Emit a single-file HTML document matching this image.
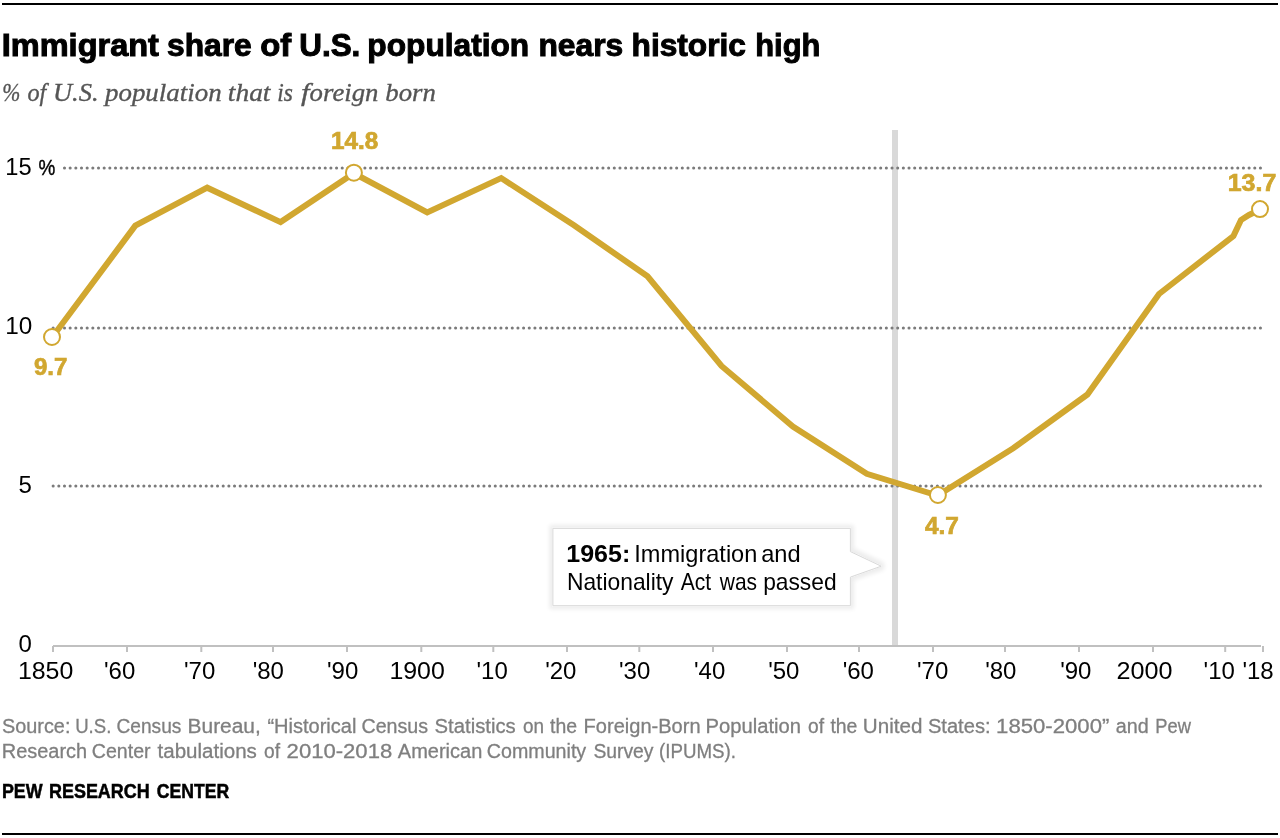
<!DOCTYPE html>
<html lang="en">
<head>
<meta charset="utf-8">
<title>Immigrant share of U.S. population nears historic high</title>
<style>
  html, body { margin: 0; padding: 0; background: #ffffff; }
  body { width: 1280px; height: 838px; overflow: hidden; }
  svg { display: block; will-change: transform; }
  text { font-family: "Liberation Sans", sans-serif; }
  .serif { font-family: "Liberation Serif", serif; }
  .ax { font-size: 24px; fill: #000000; }
  .pct { font-size: 21.5px; fill: #000; stroke: #000; stroke-width: 0.4px; }
  .val { font-size: 23px; font-weight: bold; fill: #D1A730; stroke: #D1A730; stroke-width: 0.7px; }
  .ttl { font-size: 31px; font-weight: bold; fill: #000; stroke: #000; stroke-width: 1px; }
  .sub { font-family: "Liberation Serif", serif; font-size: 26px; font-style: italic; fill: #555; stroke: #555; stroke-width: 0.35px; }
  .cb { font-size: 24px; font-weight: bold; fill: #000; }
  .ct { font-size: 24px; fill: #000; }
  .pew { font-size: 20px; font-weight: bold; fill: #000; stroke: #000; stroke-width: 0.5px; }
  .src { font-size: 20px; fill: #7f7f7f; stroke: #7f7f7f; stroke-width: 0.3px; }
</style>
</head>
<body>
<svg width="1280" height="838" viewBox="0 0 1280 838">
  <defs>
    <filter id="sh" x="-10%" y="-25%" width="120%" height="150%">
      <feMorphology in="SourceAlpha" operator="dilate" radius="3"/>
      <feGaussianBlur stdDeviation="2.3"/>
      <feOffset dx="0" dy="0.3" result="b"/>
      <feComponentTransfer><feFuncA type="linear" slope="0.075"/></feComponentTransfer>
      <feMerge><feMergeNode/><feMergeNode in="SourceGraphic"/></feMerge>
    </filter>
  </defs>

  <rect x="0" y="0" width="1280" height="838" fill="#ffffff"/>

  <!-- top & bottom rules -->
  <rect x="2" y="3" width="1276" height="2" fill="#000000"/>
  <rect x="2" y="833" width="1276" height="2" fill="#000000"/>

  <!-- title -->
  <text x="1.75" y="56" class="ttl" textLength="157.19" lengthAdjust="spacingAndGlyphs">Immigrant</text>
  <text x="167.08" y="56" class="ttl" textLength="84.67" lengthAdjust="spacingAndGlyphs">share</text>
  <text x="260.24" y="56" class="ttl" textLength="30.94" lengthAdjust="spacingAndGlyphs">of</text>
  <text x="299.29" y="56" class="ttl" textLength="61.05" lengthAdjust="spacingAndGlyphs">U.S.</text>
  <text x="367.36" y="56" class="ttl" textLength="161.80" lengthAdjust="spacingAndGlyphs">population</text>
  <text x="538.45" y="56" class="ttl" textLength="84.72" lengthAdjust="spacingAndGlyphs">nears</text>
  <text x="631.56" y="56" class="ttl" textLength="114.29" lengthAdjust="spacingAndGlyphs">historic</text>
  <text x="755.31" y="56" class="ttl" textLength="65.02" lengthAdjust="spacingAndGlyphs">high</text>
  <!-- subtitle -->
  <text x="2.27" y="101" class="sub" textLength="18.08" lengthAdjust="spacingAndGlyphs">%</text>
  <text x="27.50" y="101" class="sub" textLength="18.79" lengthAdjust="spacingAndGlyphs">of</text>
  <text x="52.96" y="101" class="sub" textLength="45.67" lengthAdjust="spacingAndGlyphs">U.S.</text>
  <text x="104.97" y="101" class="sub" textLength="116.66" lengthAdjust="spacingAndGlyphs">population</text>
  <text x="227.85" y="101" class="sub" textLength="42.64" lengthAdjust="spacingAndGlyphs">that</text>
  <text x="277.30" y="101" class="sub" textLength="15.61" lengthAdjust="spacingAndGlyphs">is</text>
  <text x="300.9" y="101" class="sub" textLength="8.6" lengthAdjust="spacingAndGlyphs">f</text>
  <text x="309.60" y="101" class="sub" textLength="68.83" lengthAdjust="spacingAndGlyphs">oreign</text>
  <text x="385.30" y="101" class="sub" textLength="50.53" lengthAdjust="spacingAndGlyphs">born</text>

  <!-- 1965 vertical marker -->
  <rect x="892" y="130" width="6" height="515" fill="#d9d9d9"/>

  <!-- gridlines -->
  <g stroke="#7b7b7b" stroke-width="3.1" stroke-linecap="round" stroke-dasharray="0 5.668" fill="none">
    <line x1="64.5" y1="168" x2="1261" y2="168"/>
    <line x1="53.16" y1="328" x2="1261" y2="328"/>
    <line x1="53.16" y1="486" x2="1261" y2="486"/>
  </g>

  <!-- x axis -->
  <g fill="#c0c0c0">
    <rect x="53" y="645" width="1208" height="2"/>
    <rect x="52" y="646" width="2" height="6"/>
    <rect x="126" y="645" width="2" height="7"/>
    <rect x="200.3" y="645" width="2" height="7"/>
    <rect x="272" y="645" width="2" height="7"/>
    <rect x="346" y="645" width="2" height="7"/>
    <rect x="420.3" y="645" width="2" height="7"/>
    <rect x="492.3" y="645" width="2" height="7"/>
    <rect x="566" y="645" width="2" height="7"/>
    <rect x="638.3" y="645" width="2" height="7"/>
    <rect x="712" y="645" width="2" height="7"/>
    <rect x="786" y="645" width="2" height="7"/>
    <rect x="858" y="645" width="2" height="7"/>
    <rect x="932" y="645" width="2" height="7"/>
    <rect x="1004" y="645" width="2" height="7"/>
    <rect x="1078" y="645" width="2" height="7"/>
    <rect x="1152" y="645" width="2" height="7"/>
    <rect x="1224.2" y="645" width="2" height="7"/>
    <rect x="1262" y="646" width="2" height="6"/>
  </g>

  <!-- y labels -->
  <text x="38.4" y="174.8" class="pct" textLength="16.8" lengthAdjust="spacingAndGlyphs">%</text>
  <text x="5.31" y="175" class="ax" textLength="26.33" lengthAdjust="spacingAndGlyphs">15</text>
  <text x="5.29" y="334" class="ax" textLength="27.07" lengthAdjust="spacingAndGlyphs">10</text>
  <text class="ax" x="18.5" y="493.4">5</text>
  <text class="ax" x="18.5" y="652">0</text>

  <!-- x labels -->
  <g class="ax">
    <text x="17.9" y="679" textLength="55.4" lengthAdjust="spacingAndGlyphs">1850</text>
    <text x="104" y="679">'60</text>
    <text x="184" y="679">'70</text>
    <text x="252.7" y="679">'80</text>
    <text x="327" y="679">'90</text>
    <text x="389.4" y="679" textLength="55.4" lengthAdjust="spacingAndGlyphs">1900</text>
    <text x="476.5" y="679">'10</text>
    <text x="545.2" y="679">'20</text>
    <text x="619" y="679">'30</text>
    <text x="694" y="679">'40</text>
    <text x="768.2" y="679">'50</text>
    <text x="842.7" y="679">'60</text>
    <text x="917" y="679">'70</text>
    <text x="985.2" y="679">'80</text>
    <text x="1060.2" y="679">'90</text>
    <text x="1116.4" y="679" textLength="56" lengthAdjust="spacingAndGlyphs">2000</text>
    <text x="1203.6" y="679">'10</text>
    <text x="1242.4" y="679">'18</text>
  </g>

  <!-- data line -->
  <polyline fill="none" stroke="#D1A730" stroke-width="6" stroke-linejoin="miter" stroke-linecap="butt"
    points="52,337.5 135.3,225.7 207.2,187.7 280.6,222.1 353.8,173.3 427.2,212.5 501.2,178.1 574,225.3 647.5,276.3 721.5,366 792.9,426.5 866.8,473.8 937.6,495.5 1013.2,448.3 1087.4,394.5 1159,294 1233.4,236 1241,220 1249,215 1260,209.6"/>

  <!-- markers -->
  <g fill="#ffffff" stroke="#D1A730" stroke-width="2">
    <circle cx="52" cy="337" r="8"/>
    <circle cx="353.9" cy="172.7" r="8"/>
    <circle cx="937.9" cy="495" r="8"/>
    <circle cx="1260" cy="209.1" r="8"/>
  </g>

  <!-- value labels -->
  <text x="331.04" y="148.6" class="val" textLength="47.24" lengthAdjust="spacingAndGlyphs">14.8</text>
  <text x="33.90" y="374.5" class="val" textLength="33.43" lengthAdjust="spacingAndGlyphs">9.7</text>
  <text x="925.00" y="533.5" class="val" textLength="33.94" lengthAdjust="spacingAndGlyphs">4.7</text>
  <text x="1227.72" y="190.8" class="val" textLength="48.54" lengthAdjust="spacingAndGlyphs">13.7</text>

  <!-- callout -->
  <g filter="url(#sh)">
    <path d="M552.9,528.4 H850.4 V551.6 L881.2,566.2 L850.4,577.1 V605.7 H552.9 Z" fill="#ffffff" stroke="#d9d9d9" stroke-width="1"/>
  </g>
  <text x="566.26" y="562" class="cb" textLength="64.02" lengthAdjust="spacingAndGlyphs">1965:</text>
  <text x="634.34" y="562" class="ct" textLength="122.98" lengthAdjust="spacingAndGlyphs">Immigration</text>
  <text x="761.22" y="562" class="ct" textLength="39.41" lengthAdjust="spacingAndGlyphs">and</text>
  <text x="566.95" y="590" class="ct" textLength="106.55" lengthAdjust="spacingAndGlyphs">Nationality</text>
  <text x="680.80" y="590" class="ct" textLength="30.41" lengthAdjust="spacingAndGlyphs">Act</text>
  <text x="719.77" y="590" class="ct" textLength="37.33" lengthAdjust="spacingAndGlyphs">was</text>
  <text x="763.15" y="590" class="ct" textLength="73.43" lengthAdjust="spacingAndGlyphs">passed</text>

  <!-- source -->
  <text x="2.00" y="732.7" class="src" textLength="68.43" lengthAdjust="spacingAndGlyphs">Source:</text>
  <text x="75.17" y="732.7" class="src" textLength="36.18" lengthAdjust="spacingAndGlyphs">U.S.</text>
  <text x="116.54" y="732.7" class="src" textLength="64.86" lengthAdjust="spacingAndGlyphs">Census</text>
  <text x="187.55" y="732.7" class="src" textLength="73.27" lengthAdjust="spacingAndGlyphs">Bureau,</text>
  <text x="267.40" y="732.7" class="src" textLength="89.04" lengthAdjust="spacingAndGlyphs">“Historical</text>
  <text x="361.52" y="732.7" class="src" textLength="66.58" lengthAdjust="spacingAndGlyphs">Census</text>
  <text x="434.60" y="732.7" class="src" textLength="81.10" lengthAdjust="spacingAndGlyphs">Statistics</text>
  <text x="522.90" y="732.7" class="src" textLength="21.06" lengthAdjust="spacingAndGlyphs">on</text>
  <text x="550.10" y="732.7" class="src" textLength="27.02" lengthAdjust="spacingAndGlyphs">the</text>
  <text x="583.60" y="732.7" class="src" textLength="116.93" lengthAdjust="spacingAndGlyphs">Foreign-Born</text>
  <text x="705.59" y="732.7" class="src" textLength="95.44" lengthAdjust="spacingAndGlyphs">Population</text>
  <text x="808.10" y="732.7" class="src" textLength="15.98" lengthAdjust="spacingAndGlyphs">of</text>
  <text x="830.40" y="732.7" class="src" textLength="27.02" lengthAdjust="spacingAndGlyphs">the</text>
  <text x="862.87" y="732.7" class="src" textLength="59.59" lengthAdjust="spacingAndGlyphs">United</text>
  <text x="927.90" y="732.7" class="src" textLength="62.67" lengthAdjust="spacingAndGlyphs">States:</text>
  <text x="996.09" y="732.7" class="src" textLength="113.24" lengthAdjust="spacingAndGlyphs">1850-2000”</text>
  <text x="1115.80" y="732.7" class="src" textLength="32.91" lengthAdjust="spacingAndGlyphs">and</text>
  <text x="1155.28" y="732.7" class="src" textLength="35.61" lengthAdjust="spacingAndGlyphs">Pew</text>
  <text x="1.80" y="758.3" class="src" textLength="85.32" lengthAdjust="spacingAndGlyphs">Research</text>
  <text x="91.82" y="758.3" class="src" textLength="58.75" lengthAdjust="spacingAndGlyphs">Center</text>
  <text x="157.50" y="758.3" class="src" textLength="99.40" lengthAdjust="spacingAndGlyphs">tabulations</text>
  <text x="264.10" y="758.3" class="src" textLength="15.98" lengthAdjust="spacingAndGlyphs">of</text>
  <text x="286.60" y="758.3" class="src" textLength="105.64" lengthAdjust="spacingAndGlyphs">2010-2018</text>
  <text x="397.80" y="758.3" class="src" textLength="84.52" lengthAdjust="spacingAndGlyphs">American</text>
  <text x="486.82" y="758.3" class="src" textLength="99.38" lengthAdjust="spacingAndGlyphs">Community</text>
  <text x="593.40" y="758.3" class="src" textLength="60.10" lengthAdjust="spacingAndGlyphs">Survey</text>
  <text x="659.06" y="758.3" class="src" textLength="76.89" lengthAdjust="spacingAndGlyphs">(IPUMS).</text>
  <text x="1.91" y="798.2" class="pew" textLength="40.68" lengthAdjust="spacingAndGlyphs">PEW</text>
  <text x="49.00" y="798.2" class="pew" textLength="100.69" lengthAdjust="spacingAndGlyphs">RESEARCH</text>
  <text x="156.80" y="798.2" class="pew" textLength="72.41" lengthAdjust="spacingAndGlyphs">CENTER</text>
</svg>
</body>
</html>
